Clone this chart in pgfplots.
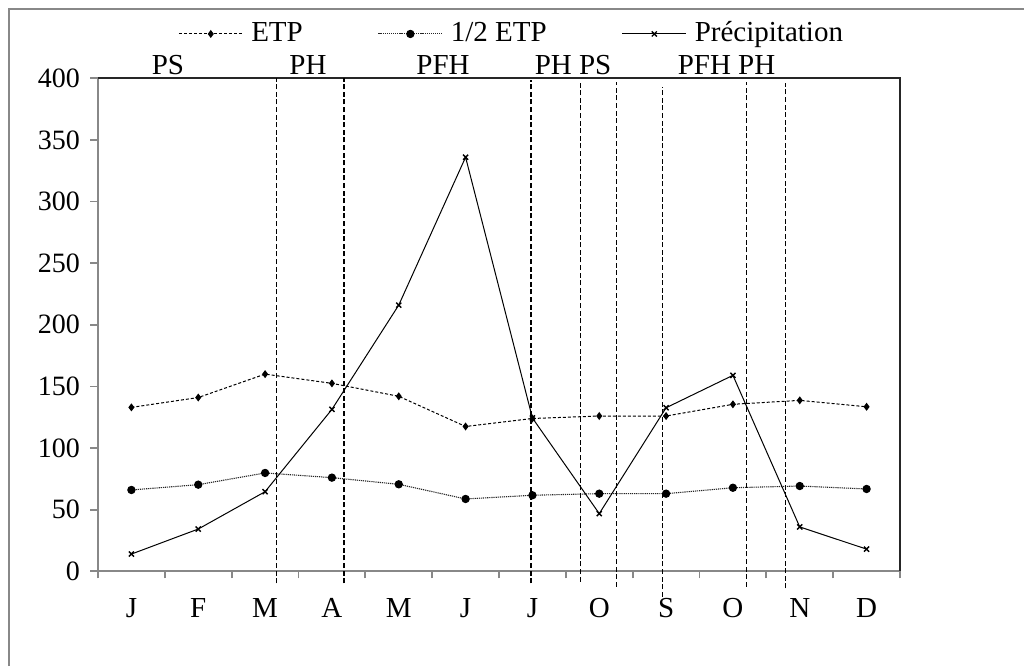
\documentclass[border=0pt]{standalone}
\usepackage{fontspec}
\setmainfont{Liberation Serif}
\usepackage{pgfplots}
\pgfplotsset{compat=1.18}
\definecolor{framegray}{RGB}{136,136,136}
\pgfplotsset{longlegend/.style={legend image code/.code={\draw[mark repeat=2,mark phase=2] plot coordinates {(0pt,0pt) (16pt,0pt) (32pt,0pt)};}}}
\begin{document}
\fontsize{14.5}{17}\selectfont
\begin{tikzpicture}
\begin{scope}[x=0.5pt,y=-0.5pt]
\useasboundingbox (0,0) rectangle (1024,666);
\draw[framegray, line width=1pt] (8.5,666) -- (8.5,8.5) -- (1024,8.5);
\end{scope}
\begin{axis}[
  at={(49pt,-285.65pt)}, anchor=south west,
  scale only axis, width=401pt, height=246.5pt,
  xmin=-0.5, xmax=11.5, ymin=0, ymax=400,
  clip=false,
  axis line style={draw=none},
  tick pos=left,
  tick align=outside,
  xtick={0,...,11},
  xticklabels={J,F,M,A,M,J,J,O,S,O,N,D},
  major x tick style={draw=none},
  minor xtick={-0.5,0.5,...,11.5},
  ytick={0,50,...,400},
  major tick length=4pt,
  minor tick length=3.5pt,
  tick style={framegray, line width=0.9pt},
  /pgf/number format/assume math mode=true,
  ticklabel style={font=\fontsize{14}{16}\selectfont},
  xticklabel style={font=\fontsize{14.5}{17}\selectfont, yshift=-4.5pt},
  legend style={at={(0.517,1.09)}, anchor=center, draw=none, fill=none,
    legend columns=3, font=\fontsize{14.5}{17}\selectfont,
    /tikz/every odd column/.append style={column sep=2pt},
    /tikz/every even column/.append style={column sep=35.5pt}},
]
\addplot[black, line width=0.5pt, dash pattern=on 1.5pt off 1pt, mark=diamond*, mark size=1.6pt, mark options={solid}, longlegend]
coordinates {(0,133) (1,141) (2,160) (3,152.5) (4,142) (5,117.5) (6,124) (7,126) (8,126) (9,135.5) (10,138.7) (11,133.5)};
\addlegendentry{ETP}
\addplot[black!85, line width=0.55pt, dash pattern=on 0.6pt off 0.45pt, mark=*, mark size=1.8pt, mark options={solid, fill=black, draw=black}, longlegend]
coordinates {(0,66) (1,70.3) (2,79.8) (3,76) (4,70.6) (5,58.7) (6,61.7) (7,63) (8,63) (9,67.8) (10,69.2) (11,66.8)};
\addlegendentry{1/2 ETP}
\addplot[black, line width=0.5pt, mark=x, mark size=1.8pt, mark options={solid, line width=0.7pt}, longlegend]
coordinates {(0,14) (1,34.3) (2,64.6) (3,131.4) (4,216) (5,336) (6,124.4) (7,46.8) (8,132.7) (9,159) (10,36) (11,18)};
\addlegendentry{Précipitation}
% frame of plot area
\draw[framegray, line width=1pt] (rel axis cs:0,1) -- (rel axis cs:0,0) -- (rel axis cs:1,0);
\draw[black!85, line width=1pt] (rel axis cs:0,1) -- (rel axis cs:1,1) -- (rel axis cs:1,0);
% period boundaries
\begin{scope}[black, line width=0.7pt, dash pattern=on 2.5pt off 1.3pt]
\draw (axis cs:2.174,-9.7) -- (axis cs:2.174,400);
\draw (axis cs:3.181,-9.7) -- (axis cs:3.181,400);
\draw (axis cs:5.979,-9.7) -- (axis cs:5.979,398.6);
\draw (axis cs:6.723,-8.4) -- (axis cs:6.723,398);
\draw (axis cs:7.256,-12.5) -- (axis cs:7.256,397.2);
\draw (axis cs:7.944,-20.6) -- (axis cs:7.944,393.2);
\draw (axis cs:9.207,-12.5) -- (axis cs:9.207,397.2);
\draw (axis cs:9.784,-13.8) -- (axis cs:9.784,396);
\end{scope}
% period labels
\node[anchor=base] at (axis cs:0.547,402.7) {PS};
\node[anchor=base] at (axis cs:2.642,402.7) {PH};
\node[anchor=base] at (axis cs:4.662,402.7) {PFH};
\node[anchor=base] at (axis cs:6.608,402.7) {PH PS};
\node[anchor=base] at (axis cs:8.905,402.7) {PFH PH};
\end{axis}
\end{tikzpicture}
\end{document}
